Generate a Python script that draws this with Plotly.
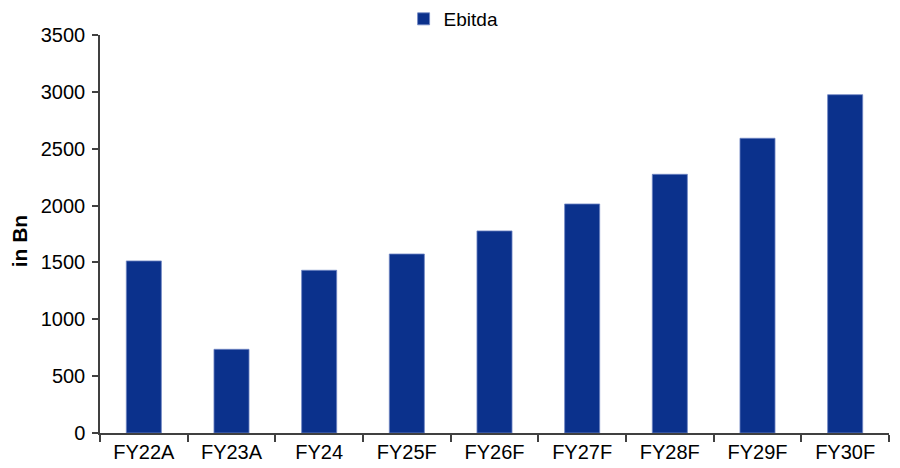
import plotly.graph_objects as go

categories = ["FY22A", "FY23A", "FY24", "FY25F", "FY26F", "FY27F", "FY28F", "FY29F", "FY30F"]
ebitda = [1513, 736, 1431, 1574, 1777, 2014, 2275, 2592, 2975]
y_ticks = [0, 500, 1000, 1500, 2000, 2500, 3000, 3500]

FONT = "Liberation Sans, Arial, sans-serif"

fig = go.Figure()
fig.add_trace(go.Bar(
    x=categories,
    y=ebitda,
    name="Ebitda",
    marker=dict(color="#0B318C", line=dict(color="#7086C4", width=0.8)),
))

# Rotated y-axis caption
fig.add_annotation(
    text="<b>in Bn</b>",
    xref="paper", yref="paper",
    x=-0.1027, y=0.484,
    xanchor="center", yanchor="middle",
    textangle=-90, showarrow=False,
    font=dict(family=FONT, size=21, color="black"),
)

fig.update_layout(
    width=900,
    height=468,
    margin=dict(l=100, r=11, t=35, b=35, autoexpand=False),
    plot_bgcolor="white",
    paper_bgcolor="white",
    bargap=0.6,
    font=dict(family=FONT, size=20, color="black"),
    showlegend=True,
    legend=dict(
        orientation="h",
        xref="container", yref="container",
        x=0.504, xanchor="center",
        y=1.0, yanchor="top",
        font=dict(family=FONT, size=19, color="black"),
        itemwidth=30,
        bgcolor="rgba(0,0,0,0)",
    ),
    xaxis=dict(
        showline=True, linecolor="#404040", linewidth=1.5,
        ticks="outside", ticklen=7, tickcolor="#404040", tickwidth=1.5,
        tickson="boundaries",
        showgrid=False,
        tickfont=dict(family=FONT, size=20, color="black"),
    ),
    yaxis=dict(
        range=[0, 3500],
        tickvals=y_ticks,
        showline=True, linecolor="#404040", linewidth=1.5,
        ticks="outside", ticklen=6, tickcolor="#404040", tickwidth=1.5,
        ticklabelstandoff=3,
        showgrid=False, zeroline=False,
        tickfont=dict(family=FONT, size=20, color="black"),
    ),
)

fig.write_html("out.html")
